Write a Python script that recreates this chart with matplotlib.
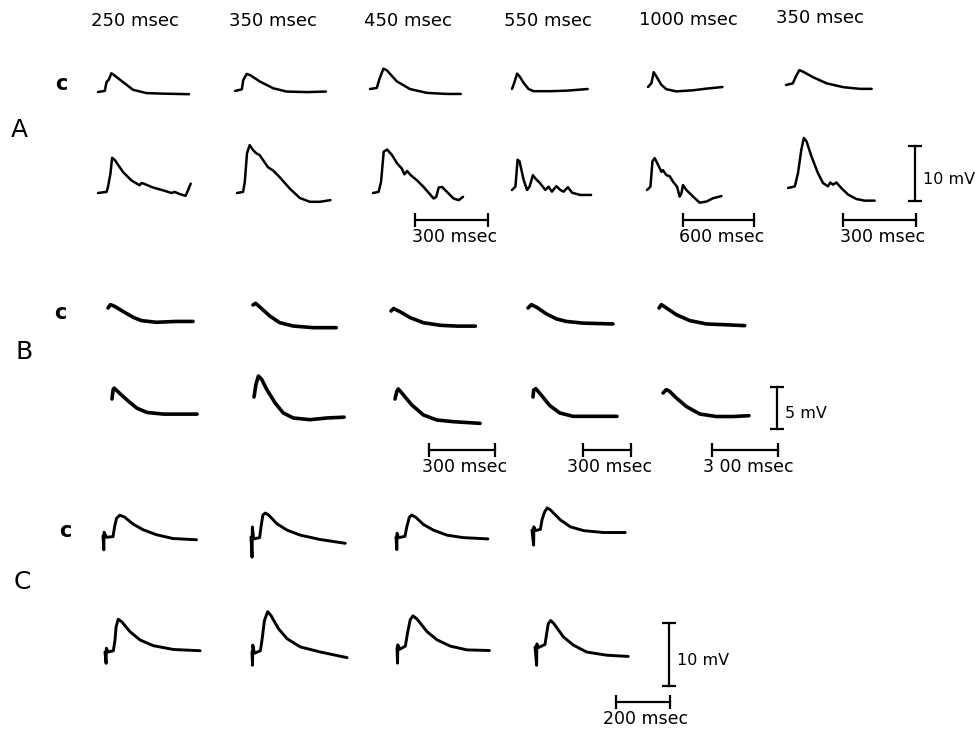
import numpy as np
import matplotlib.pyplot as plt

W, H = 979, 730

# interval labels (top) and scale bars
intervals = ['250 msec', '350 msec', '450 msec', '550 msec', '1000 msec', '350 msec']

# ---- row A : control (c) and test responses, time in ms, potential in mV ----
A1c_ms = [0, 28, 35, 45, 55, 62, 103, 144, 199, 267, 374]
A1c_mv = [0, 0.2, 1.8, 2.3, 3.4, 3.2, 1.8, 0.4, -0.2, -0.3, -0.4]
A1t_ms = [0, 35, 41, 51, 58, 69, 103, 137, 171, 178, 188, 226, 274, 302, 315, 336, 360, 370, 381]
A1t_mv = [0, 0.2, 1.1, 3.5, 6.4, 6.0, 3.8, 2.3, 1.4, 1.8, 1.7, 1.0, 0.4, 0, 0.2, -0.2, -0.5, 0.5, 1.7]

A2c_ms = [0, 28, 34, 48, 62, 103, 157, 212, 295, 374]
A2c_mv = [0, 0.3, 2.0, 3.1, 2.9, 1.7, 0.5, -0.1, -0.2, -0.1]
A2t_ms = [0, 25, 32, 41, 52, 66, 80, 93, 107, 127, 148, 175, 217, 258, 299, 340, 384]
A2t_mv = [0, 0.2, 2.0, 7.2, 8.7, 7.8, 7.2, 6.9, 6.0, 4.7, 4.1, 2.9, 0.8, -0.9, -1.6, -1.6, -1.3]

A3c_ms = [0, 28, 38, 55, 69, 110, 164, 233, 315, 373]
A3c_mv = [0, 0.2, 1.7, 3.7, 3.4, 1.4, 0, -0.7, -0.9, -0.9]
A3t_ms = [0, 23, 33, 44, 58, 78, 99, 119, 129, 140, 156, 181, 208, 249, 260, 270, 284, 304, 331, 352, 370]
A3t_mv = [0, 0.2, 2.0, 7.5, 7.9, 6.9, 5.4, 4.4, 3.4, 4.0, 3.2, 2.3, 1.1, -1.0, -0.7, 1.0, 1.1, 0.2, -1.0, -1.3, -0.7]

A4c_ms = [0, 9, 21, 31, 48, 68, 89, 157, 226, 311]
A4c_mv = [0, 1.1, 2.8, 2.3, 1.1, 0, -0.4, -0.4, -0.3, 0]
A4t_ms = [0, 14, 23, 31, 48, 62, 72, 86, 96, 116, 137, 150, 164, 182, 199, 212, 230, 247, 281, 325]
A4t_mv = [0, 0.6, 5.5, 5.2, 1.8, 0, 0.6, 2.7, 2.1, 1.2, 0, 0.6, -0.3, 0.7, 0, -0.3, 0.5, -0.5, -0.9, -0.9]

A5c_ms = [0, 29, 48, 71, 113, 155, 240, 380, 493, 629]
A5c_mv = [0, 0.7, 2.7, 1.9, 0.4, -0.4, -0.8, -0.6, -0.3, 0]
A5t_ms = [0, 29, 46, 65, 93, 122, 135, 164, 192, 220, 254, 276, 291, 304, 333, 389, 445, 502, 558, 629]
A5t_mv = [0, 0.6, 5.2, 5.8, 4.6, 3.3, 3.6, 2.7, 2.5, 1.5, 0.6, -1.2, -0.6, 0.9, 0, -1.2, -2.3, -2.1, -1.5, -1.1]

A6c_ms = [0, 28, 41, 55, 71, 112, 167, 236, 304, 352]
A6c_mv = [0, 0.3, 1.6, 2.7, 2.4, 1.4, 0.3, -0.4, -0.7, -0.7]
A6t_ms = [0, 28, 41, 55, 65, 76, 96, 123, 144, 164, 174, 185, 199, 219, 247, 281, 315, 356]
A6t_mv = [0, 0.3, 2.7, 7.0, 9.1, 8.5, 5.8, 2.7, 0.9, 0.3, 1.0, 0.6, 1.0, 0, -1.2, -2.0, -2.3, -2.3]

# ---- row B ----
B1c_ms = [0, 11, 30, 68, 114, 152, 220, 311, 387]
B1c_mv = [0, 0.4, 0.2, -0.4, -1.1, -1.5, -1.7, -1.6, -1.6]
B1t_ms = [0, 5, 10, 38, 76, 114, 159, 235, 311, 387]
B1t_mv = [0, 1.1, 1.3, 0.6, -0.3, -1.1, -1.6, -1.8, -1.8, -1.8]

B2c_ms = [0, 12, 38, 76, 121, 182, 273, 379]
B2c_mv = [0, 0.2, -0.4, -1.3, -2.1, -2.5, -2.7, -2.7]
B2t_ms = [0, 9, 20, 35, 58, 96, 133, 179, 255, 331, 410]
B2t_mv = [0, 1.5, 2.5, 2.1, 0.9, -0.7, -1.9, -2.5, -2.7, -2.5, -2.4]

B3c_ms = [0, 12, 42, 88, 148, 224, 300, 384]
B3c_mv = [0, 0.3, -0.1, -0.8, -1.4, -1.7, -1.8, -1.8]
B3t_ms = [0, 8, 15, 38, 76, 129, 190, 265, 387]
B3t_mv = [0, 0.9, 1.2, 0.5, -0.7, -1.9, -2.5, -2.7, -2.9]

B4c_ms = [0, 21, 53, 115, 178, 240, 344, 531]
B4c_mv = [0, 0.4, 0.1, -0.7, -1.3, -1.6, -1.8, -1.9]
B4t_ms = [0, 4, 17, 53, 104, 167, 250, 375, 525]
B4t_mv = [0, 0.8, 1.0, 0.2, -1.0, -1.9, -2.3, -2.3, -2.3]

B5c_ms = [0, 11, 34, 79, 140, 216, 307, 390]
B5c_mv = [0, 0.4, 0, -0.8, -1.5, -1.9, -2.0, -2.1]
B5t_ms = [0, 15, 30, 61, 106, 167, 243, 319, 391]
B5t_mv = [0, 0.4, 0.2, -0.6, -1.6, -2.5, -2.8, -2.8, -2.7]

# ---- row C (stimulus artefact at the start) ----
C1c_ms = [0, 3, 4, 13, 37, 43, 50, 62, 80, 111, 148, 198, 259, 346]
C1c_mv = [0, -2.2, 0.6, -0.2, -0.1, 1.5, 2.8, 3.3, 3.0, 1.9, 1.0, 0.2, -0.4, -0.6]
C1t_ms = [0, 4, 5, 12, 31, 37, 41, 49, 62, 93, 130, 179, 253, 352]
C1t_mv = [0, -1.8, 0.6, 0, 0.2, 1.9, 4.0, 5.2, 4.8, 3.2, 1.9, 1.0, 0.4, 0.2]

C2c_ms = [0, 4, 5, 10, 32, 37, 44, 53, 65, 96, 133, 182, 256, 349]
C2c_mv = [0, -3.2, 1.6, -0.3, -0.1, 1.6, 3.5, 3.8, 3.5, 2.1, 1.1, 0.3, -0.4, -1.0]
C2t_ms = [0, 2, 3, 9, 31, 37, 46, 58, 70, 98, 130, 179, 253, 352]
C2t_mv = [0, -2.1, 1.1, -0.2, 0.2, 1.9, 5.0, 6.4, 5.8, 3.7, 2.1, 0.8, 0, -0.9]

C3c_ms = [0, 3, 4, 9, 33, 40, 49, 58, 74, 101, 138, 188, 249, 340]
C3c_mv = [0, -2.0, 0.6, -0.1, 0.1, 1.6, 3.1, 3.5, 3.1, 2.0, 1.1, 0.3, -0.1, -0.3]
C3t_ms = [0, 2, 3, 10, 31, 39, 49, 59, 74, 111, 148, 197, 259, 342]
C3t_mv = [0, -2.4, 0.5, -0.2, 0.3, 2.4, 4.5, 5.1, 4.6, 2.6, 1.3, 0.3, -0.3, -0.4]

C4c_ms = [0, 6, 7, 12, 31, 37, 46, 56, 68, 105, 142, 191, 265, 345]
C4c_mv = [0, -2.4, 0.5, -0.1, 0.1, 1.6, 2.8, 3.5, 3.2, 1.6, 0.5, -0.1, -0.4, -0.4]
C4t_ms = [0, 6, 7, 12, 37, 43, 49, 58, 70, 105, 142, 191, 265, 345]
C4t_mv = [0, -2.9, 0.5, -0.1, 0.4, 2.1, 3.7, 4.2, 3.7, 1.6, 0.3, -0.8, -1.3, -1.5]

# ---- layout: pixel origin of each trace (x, y from top) and scales ----
A_ctrl = [(A1c_ms, A1c_mv), (A2c_ms, A2c_mv), (A3c_ms, A3c_mv), (A4c_ms, A4c_mv), (A5c_ms, A5c_mv), (A6c_ms, A6c_mv)]
A_test = [(A1t_ms, A1t_mv), (A2t_ms, A2t_mv), (A3t_ms, A3t_mv), (A4t_ms, A4t_mv), (A5t_ms, A5t_mv), (A6t_ms, A6t_mv)]
A_ctrl_pos = [(98, 92), (235, 91), (370, 89), (512, 89), (648, 87), (786, 85)]
A_test_pos = [(98, 193), (237, 193), (373, 193), (512, 190), (647, 190), (788, 188)]
A_ms_px = [4.11, 4.11, 4.11, 4.11, 8.45, 4.11]
A_mv_px = 10 / 55

B_ctrl = [(B1c_ms, B1c_mv), (B2c_ms, B2c_mv), (B3c_ms, B3c_mv), (B4c_ms, B4c_mv), (B5c_ms, B5c_mv)]
B_test = [(B1t_ms, B1t_mv), (B2t_ms, B2t_mv), (B3t_ms, B3t_mv), (B4t_ms, B4t_mv), (B5t_ms, B5t_mv)]
B_ctrl_pos = [(108, 308), (253, 305), (391, 311), (528, 308), (659, 308)]
B_test_pos = [(112, 399), (254, 397), (395, 399), (533, 397), (663, 393)]
B_ms_px = [4.55, 4.55, 4.55, 6.25, 4.55]
B_mv_px = 5 / 42

C_ctrl = [(C1c_ms, C1c_mv), (C2c_ms, C2c_mv), (C3c_ms, C3c_mv), (C4c_ms, C4c_mv)]
C_test = [(C1t_ms, C1t_mv), (C2t_ms, C2t_mv), (C3t_ms, C3t_mv), (C4t_ms, C4t_mv)]
C_ctrl_pos = [(103, 536), (251, 537), (396, 537), (532, 530)]
C_test_pos = [(105, 652), (252, 652), (397, 648), (535, 647)]
C_ms_px = [3.70, 3.70, 3.70, 3.70]
C_mv_px = 10 / 63

fig = plt.figure(figsize=(W / 100, H / 100), dpi=100)

bg = fig.add_axes([0, 0, 1, 1])
bg.set_xlim(0, W)
bg.set_ylim(H, 0)
bg.set_axis_off()


def trace_axes(x0, y0, ms_px, mv_px):
    # full-figure axes whose origin (0 ms, 0 mV) lands on pixel (x0, y0)
    ax = fig.add_axes([0, 0, 1, 1])
    ax.set_xlim(-x0 * ms_px, (W - x0) * ms_px)
    ax.set_ylim(-(H - y0) * mv_px, y0 * mv_px)
    ax.set_axis_off()
    ax.patch.set_alpha(0)
    return ax


def draw_row(traces, positions, ms_px, mv_px, lw):
    for (t, v), (x0, y0), sc in zip(traces, positions, ms_px):
        ax = trace_axes(x0, y0, sc, mv_px)
        ax.plot(t, v, color='black', lw=lw, solid_joinstyle='round', solid_capstyle='round')


draw_row(A_ctrl, A_ctrl_pos, A_ms_px, A_mv_px, 1.8)
draw_row(A_test, A_test_pos, A_ms_px, A_mv_px, 1.8)
draw_row(B_ctrl, B_ctrl_pos, B_ms_px, B_mv_px, 2.6)
draw_row(B_test, B_test_pos, B_ms_px, B_mv_px, 2.6)
draw_row(C_ctrl, C_ctrl_pos, C_ms_px, C_mv_px, 2.1)
draw_row(C_test, C_test_pos, C_ms_px, C_mv_px, 2.1)


def time_bar(x0, y0, ms_px, length, label):
    ax = trace_axes(x0, y0, ms_px, 1)
    ax.plot([0, length], [0, 0], color='black', lw=1.6, marker='|', ms=10, mew=1.6)
    bg.text(x0 + length / ms_px / 2 + 3, y0 + 17, label, ha='center', va='center', fontsize=12.5)


def volt_bar(x0, y0, mv_px, length, label):
    ax = trace_axes(x0, y0, 1, mv_px)
    ax.plot([0, 0], [0, length], color='black', lw=1.6, marker='_', ms=10, mew=1.6)
    bg.text(x0 + 8, y0 - length / mv_px / 2 + 6, label, ha='left', va='center', fontsize=11.5)


time_bar(415, 220, 4.11, 300, '300 msec')
time_bar(683, 220, 8.45, 600, '600 msec')
time_bar(843, 220, 4.11, 300, '300 msec')
volt_bar(915, 201, A_mv_px, 10, '10 mV')

time_bar(429, 450, 4.55, 300, '300 msec')
time_bar(583, 450, 6.25, 300, '300 msec')
time_bar(712, 450, 4.55, 300, '3 00 msec')
volt_bar(777, 429, B_mv_px, 5, '5 mV')

time_bar(616, 702, 3.70, 200, '200 msec')
volt_bar(669, 686, C_mv_px, 10, '10 mV')

# interval labels across the top
label_x = [135, 273, 408, 548, 688, 820]
label_y = [21, 21, 21, 21, 20, 18]
for s, x, y in zip(intervals, label_x, label_y):
    bg.text(x, y, s, ha='center', va='center', fontsize=13)

# panel letters and control markers
for s, x, y in [('A', 19, 130), ('B', 24, 352), ('C', 22, 582)]:
    bg.text(x, y, s, ha='center', va='center', fontsize=18)
for x, y in [(61, 84), (60, 313), (65, 531)]:
    bg.text(x, y, 'c', ha='center', va='center', fontsize=15, fontweight='bold')

fig.savefig('out.png', dpi=100)
